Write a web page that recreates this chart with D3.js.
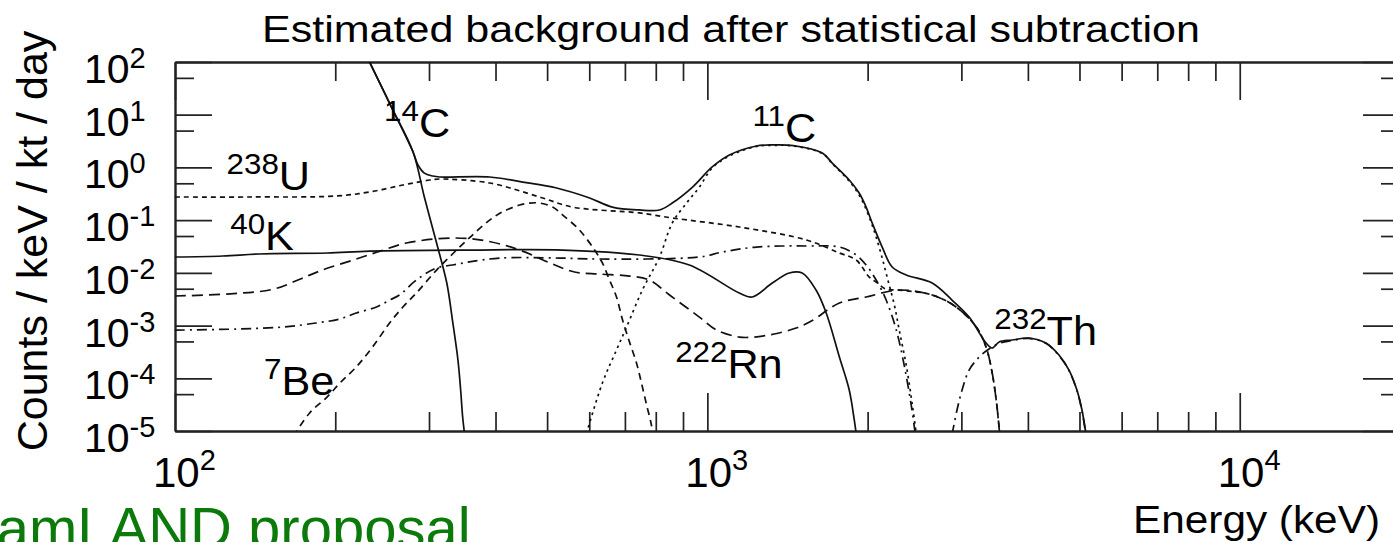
<!DOCTYPE html>
<html>
<head>
<meta charset="utf-8">
<script src="https://cdnjs.cloudflare.com/ajax/libs/d3/7.8.5/d3.min.js"></script>
<style>
html,body{margin:0;padding:0;background:#fff;overflow:hidden}
svg{display:block}
text{font-family:"Liberation Sans",Arial,Helvetica,sans-serif;fill:#000}
</style>
</head>
<body>
<div id="chart"></div>
<script>
// energy (keV) vs rate (counts / keV / kt / day)
var total = [[225,185],[232,100],[255,14],[280,1.96],[286,1.11],[294,0.78],[305,0.687],[314,0.658],[390,0.658],[450,0.528],[521,0.407],[601,0.263],[663,0.177],[745,0.156],[813,0.156],[859,0.211],[938,0.425],[1021,1.02],[1100,1.72],[1236,2.55],[1330,2.68],[1450,2.6],[1644,1.88],[1716,1.21],[1847,0.577],[1928,0.327],[1987,0.177],[2040,0.0882],[2130,0.0309],[2224,0.0129],[2363,0.0091],[2644,0.00641],[2881,0.00305],[3102,0.00145],[3338,0.000467],[3428,0.000375],[3533,0.000488],[3735,0.000532],[4018,0.00058],[4324,0.000467],[4575,0.000276],[4778,0.000143],[4945,5.98e-5],[5054,2.5e-5],[5145,8.5e-6]];
var c14 = [[225,185],[232,100],[255,14],[280,1.96],[294,0.275],[310,0.0368],[324,0.00641],[332,0.00127],[340,0.000222],[344,6.0e-5],[347,1.84e-5],[350,8.5e-6]];
var u238 = [[100,0.275],[138,0.275],[201,0.287],[232,0.342],[268,0.464],[301,0.577],[314,0.603],[390,0.506],[484,0.275],[558,0.177],[745,0.137],[859,0.11],[1148,0.0741],[1535,0.042],[1770,0.0238],[1904,0.0175],[2014,0.0083],[2075,0.0067],[2167,0.0049],[2293,0.0047],[2644,0.0038],[2932,0.00225],[3200,0.000938],[3338,0.000392],[3428,0.000126],[3497,3.1e-5],[3548,6.8e-6]];
var rn222 = [[100,0.00364],[127,0.004],[153,0.0049],[172,0.00764],[189,0.0113],[216,0.0175],[243,0.0259],[272,0.0368],[332,0.0458],[385,0.0402],[444,0.0271],[506,0.0154],[563,0.0104],[627,0.0095],[714,0.0087],[778,0.00731],[849,0.0038],[966,0.00145],[1040,0.000823],[1148,0.000606],[1225,0.000606],[1335,0.000691],[1468,0.000897],[1568,0.00122],[1770,0.00268],[1987,0.00348],[2293,0.00472],[2644,0.0038],[2932,0.00225],[3200,0.000938],[3338,0.000392],[3428,0.000126],[3497,3.1e-5],[3548,6.8e-6]];
var k40 = [[100,0.02],[123,0.0209],[144,0.0228],[193,0.0238],[232,0.0259],[357,0.0271],[535,0.0271],[745,0.0218],[925,0.0141],[1148,0.00414],[1213,0.00348],[1324,0.00641],[1425,0.00993],[1507,0.00993],[1600,0.00472],[1672,0.00173],[1770,0.000253],[1847,5.98e-5],[1888,1.6e-5],[1910,6.8e-6]];
var be7 = [[167,8e-6],[179,2.2e-5],[193,4.4e-5],[204,8.1e-5],[219,0.000164],[235,0.000392],[253,0.00112],[268,0.00225],[284,0.00414],[310,0.0113],[338,0.0271],[362,0.0522],[390,0.1],[412,0.143],[444,0.194],[464,0.211],[484,0.211],[512,0.177],[535,0.125],[575,0.065],[614,0.0271],[635,0.0154],[655,0.00731],[675,0.00348],[693,0.00127],[714,0.000488],[736,0.000195],[752,8.13e-5],[769,3.1e-5],[785,1.3e-5],[792,6.8e-6]];
var c11 = [[588,6.8e-6],[635,8.13e-5],[675,0.000344],[705,0.000938],[755,0.00472],[813,0.02],[859,0.0882],[914,0.211],[966,0.425],[1021,0.975],[1100,1.65],[1236,2.5],[1330,2.62],[1450,2.55],[1644,1.84],[1716,1.18],[1847,0.55],[1928,0.3],[1987,0.16],[2040,0.08],[2075,0.0479],[2130,0.0191],[2183,0.00731],[2245,0.00245],[2293,0.00082],[2363,0.000179],[2427,3.1e-5],[2477,6.8e-6]];
// null = gap between the low-energy chain and the high-energy bump
var th232 = [[100,0.00082],[131,0.00086],[160,0.00094],[184,0.00112],[204,0.00133],[219,0.00173],[239,0.00225],[253,0.00305],[264,0.0038],[284,0.00731],[310,0.0124],[332,0.0141],[357,0.0161],[407,0.0191],[527,0.0191],[627,0.0183],[966,0.02],[1067,0.0248],[1236,0.0309],[1535,0.0323],[1770,0.0309],[1904,0.0218],[1987,0.0141],[2075,0.00731],[2167,0.00305],[2264,0.000823],[2342,0.000179],[2415,3.1e-5],[2466,6.8e-6],null,[2881,8.5e-6],[2944,2.5e-5],[3009,6e-5],[3102,0.000143],[3236,0.00025],[3380,0.00036],[3533,0.00046],[3735,0.00052],[4018,0.00057],[4324,0.00046],[4575,0.00027],[4778,0.00014],[4945,5.9e-5],[5054,2.4e-5],[5145,8e-6]];

var xMajor = [1e2,1e3,1e4];
var xMinor = [200,300,400,500,600,700,800,900,2000,3000,4000,5000,6000,7000,8000,9000,20000];
var yMajor = [1e-5,1e-4,1e-3,1e-2,1e-1,1e0,1e1,1e2];
var yMinor = [5e-5,5e-4,5e-3,5e-2,5e-1,5,50];
var xExp = ["2","3","4"];
var yExp = ["-5","-4","-3","-2","-1","0","1","2"];

var W = 1393, H = 542;
var svg = d3.select("#chart").append("svg").attr("width",W).attr("height",H);

var x = d3.scaleLog().domain([100,20000]).range([175,1400]);
var y = d3.scaleLog().domain([1e-5,1e2]).range([431,62]);

svg.append("defs").append("clipPath").attr("id","plotclip")
  .append("rect").attr("x",175).attr("y",62).attr("width",1225).attr("height",369);

// axes, ticks pointing inward
function styleAxis(g){
  g.selectAll("path").attr("stroke","#222").attr("stroke-width",1.9);
  g.selectAll("line").attr("stroke","#222").attr("stroke-width",1.7);
}
svg.append("g").attr("transform","translate(0,431)").call(d3.axisBottom(x).tickValues(xMajor).tickSize(-38).tickSizeOuter(0).tickFormat("")).call(styleAxis);
svg.append("g").attr("transform","translate(0,431)").call(d3.axisBottom(x).tickValues(xMinor).tickSize(-19).tickSizeOuter(0).tickFormat("")).call(styleAxis);
svg.append("g").attr("transform","translate(0,62)").call(d3.axisTop(x).tickValues(xMajor).tickSize(-38).tickSizeOuter(0).tickFormat("")).call(styleAxis);
svg.append("g").attr("transform","translate(0,62)").call(d3.axisTop(x).tickValues(xMinor).tickSize(-19).tickSizeOuter(0).tickFormat("")).call(styleAxis);
svg.append("g").attr("transform","translate(175,0)").call(d3.axisLeft(y).tickValues(yMajor).tickSize(-37).tickSizeOuter(0).tickFormat("")).call(styleAxis);
svg.append("g").attr("transform","translate(175,0)").call(d3.axisLeft(y).tickValues(yMinor).tickSize(-19).tickSizeOuter(0).tickFormat("")).call(styleAxis);
svg.append("g").attr("transform","translate(1400,0)").call(d3.axisRight(y).tickValues(yMajor).tickSize(-37).tickSizeOuter(0).tickFormat("")).call(styleAxis);
svg.append("g").attr("transform","translate(1400,0)").call(d3.axisRight(y).tickValues(yMinor).tickSize(-19).tickSizeOuter(0).tickFormat("")).call(styleAxis);

// tick labels 10^n
var xl = svg.append("g").selectAll("text").data(xMajor).enter().append("text")
  .attr("x",function(d){return x(d)-22;}).attr("y",487).attr("font-size",42);
xl.append("tspan").text("10");
xl.append("tspan").attr("font-size",29).attr("dy",-17).text(function(d,i){return xExp[i];});

var yl = svg.append("g").selectAll("text").data(yMajor).enter().append("text")
  .attr("x",84).attr("y",function(d){return y(d)+21;}).attr("font-size",41);
yl.append("tspan").text("10");
yl.append("tspan").attr("font-size",29).attr("dy",-15).text(function(d,i){return yExp[i];});

// curves
var line = d3.line().defined(function(d){return d!==null;})
  .x(function(d){return x(d[0]);}).y(function(d){return y(d[1]);})
  .curve(d3.curveCatmullRom.alpha(0.5));

var series = [
  {data:th232, dash:"10,5,2,5"},
  {data:rn222, dash:"11,6"},
  {data:be7, dash:"7,5"},
  {data:u238, dash:"5,4"},
  {data:c11, dash:"2.5,4"},
  {data:k40, dash:null},
  {data:c14, dash:null},
  {data:total, dash:null}
];
var plot = svg.append("g").attr("clip-path","url(#plotclip)");
plot.selectAll("path").data(series).enter().append("path")
  .attr("d",function(s){return line(s.data);})
  .attr("fill","none").attr("stroke","#111").attr("stroke-width",1.7)
  .attr("stroke-dasharray",function(s){return s.dash;});

// isotope labels: mass number as superscript (anchor = baseline of element symbol)
var isoLabels = [
  {m:"14", n:"C", e:247, v:3.7},
  {m:"11", n:"C", e:1215, v:3.0},
  {m:"238", n:"U", e:125, v:0.37},
  {m:"40", n:"K", e:127, v:0.027},
  {m:"7", n:"Be", e:147, v:4.8e-5},
  {m:"222", n:"Rn", e:870, v:1.0e-4},
  {m:"232", n:"Th", e:3460, v:4.3e-4}
];
var il = svg.append("g").selectAll("text").data(isoLabels).enter().append("text")
  .attr("transform",function(d){return "translate("+x(d.e)+","+y(d.v)+") scale(1.08,1)";})
  .attr("font-size",40);
il.append("tspan").attr("font-size",29).attr("dy",-16).text(function(d){return d.m;});
il.append("tspan").attr("dy",16).text(function(d){return d.n;});

// titles
svg.append("text").attr("x",262).attr("y",42).attr("font-size",37)
  .attr("textLength",938).attr("lengthAdjust","spacingAndGlyphs")
  .text("Estimated background after statistical subtraction");
svg.append("text").attr("x",1133).attr("y",533).attr("font-size",39)
  .attr("textLength",247).attr("lengthAdjust","spacingAndGlyphs")
  .text("Energy (keV)");
svg.append("text").attr("transform","translate(47,241) rotate(-90)")
  .attr("text-anchor","middle").attr("font-size",43)
  .text("Counts / keV / kt / day");

svg.append("text").attr("x",-42).attr("y",548).attr("font-size",58)
  .style("fill","#0b7a0b").text("KamLAND proposal");
</script>
</body>
</html>
